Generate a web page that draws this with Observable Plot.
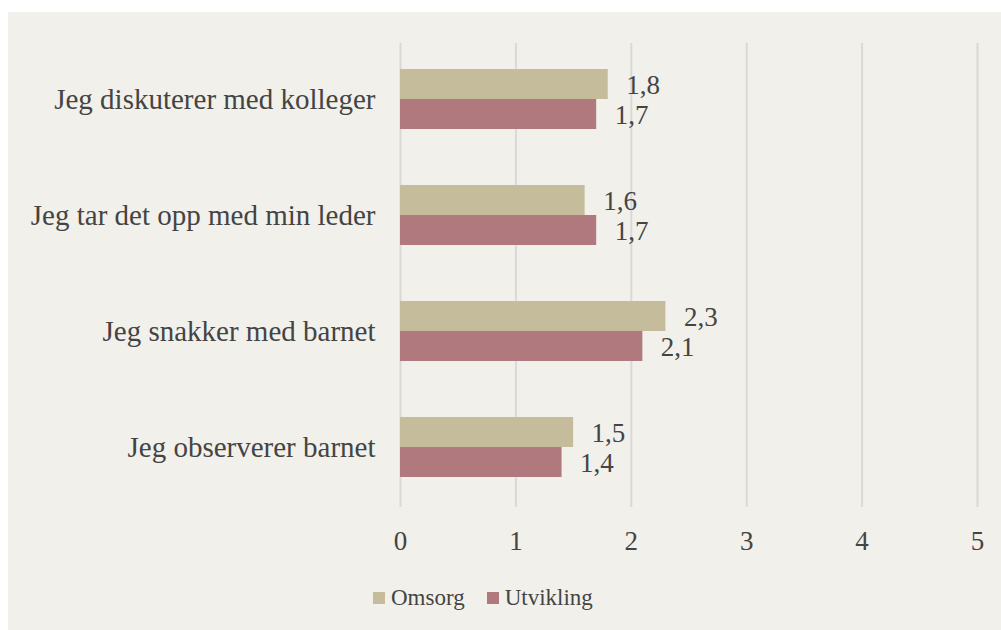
<!DOCTYPE html>
<html>
<head>
<meta charset="utf-8">
<script src="https://cdn.jsdelivr.net/npm/d3@7"></script>
<script src="https://cdn.jsdelivr.net/npm/@observablehq/plot@0.6"></script>
<style>
  html, body { margin: 0; padding: 0; background: #ffffff; }
  #frame { position: absolute; left: 8px; top: 12px; width: 993px; height: 618px; background: #f1f0ea; overflow: hidden; }
  #chart { position: absolute; left: 0; top: 0; }
  #chart svg, #chart svg text { font-family: "Liberation Serif", "Times New Roman", serif !important; }
  #legend { position: absolute; left: 365px; top: 573px; display: flex; align-items: center; gap: 22px;
            font-family: "Liberation Serif", "Times New Roman", serif; font-size: 23px; color: #444; }
  .item { display: flex; align-items: center; gap: 6px; }
  .sw { width: 12px; height: 12px; display: inline-block; }
</style>
</head>
<body>
<div id="frame">
  <div id="chart"></div>
  <div id="legend"></div>
</div>
<script>
const categories = ["Jeg diskuterer med kolleger", "Jeg tar det opp med min leder", "Jeg snakker med barnet", "Jeg observerer barnet"];
const series = ["Omsorg", "Utvikling"];
const omsorg = [1.8, 1.6, 2.3, 1.5];
const utvikling = [1.7, 1.7, 2.1, 1.4];
const xTicks = [0, 1, 2, 3, 4, 5];
const colors = ["#c4bc9a", "#b0797d"];

const data = categories.flatMap((c, i) => [
  {cat: c, series: series[0], value: omsorg[i]},
  {cat: c, series: series[1], value: utvikling[i]}
]);

const fmt = v => v.toFixed(1).replace(".", ",");

const chart = Plot.plot({
  width: 993,
  height: 546,
  marginTop: 30,
  marginBottom: 50,
  marginLeft: 392,
  marginRight: 24,
  style: {background: "transparent", fontFamily: "'Liberation Serif', 'Times New Roman', serif", color: "#444", overflow: "visible"},
  x: {domain: [0, 5], ticks: xTicks},
  fy: {domain: categories, padding: 0},
  y: {domain: series, paddingInner: 0, paddingOuter: 0.91, axis: null},
  color: {domain: series, range: colors},
  marks: [
    Plot.ruleX(xTicks, {stroke: "#d9d9d9", strokeWidth: 2}),
    Plot.barX(data, {x: "value", y: "series", fy: "cat", fill: "series", dy: -2}),
    Plot.text(data, {x: "value", y: "series", fy: "cat", text: d => fmt(d.value), dx: 18, dy: -1, textAnchor: "start", fontSize: 27, fill: "#444"}),
    Plot.axisX({ticks: xTicks, tickSize: 0, tickPadding: 23, fontSize: 27, label: null, tickFormat: d => String(d), fill: "#444"}),
    Plot.axisFy({anchor: "left", tickSize: 0, tickPadding: 25, fontSize: 29, label: null, fill: "#444", dy: -2})
  ]
});
document.getElementById("chart").appendChild(chart);

const legend = document.getElementById("legend");
series.forEach((s, i) => {
  const item = document.createElement("div");
  item.className = "item";
  const sw = document.createElement("span");
  sw.className = "sw";
  sw.style.background = colors[i];
  const t = document.createElement("span");
  t.textContent = s;
  item.appendChild(sw);
  item.appendChild(t);
  legend.appendChild(item);
});
</script>
</body>
</html>
